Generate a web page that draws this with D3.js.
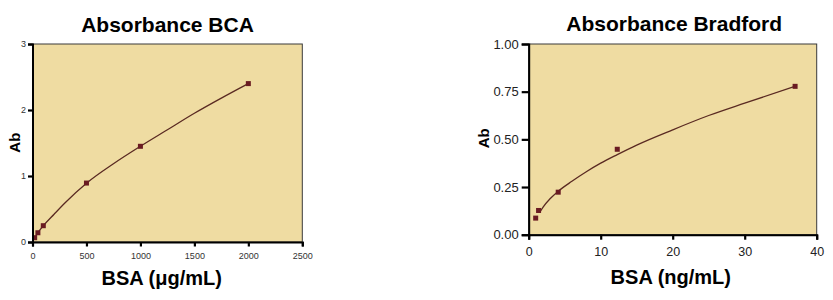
<!DOCTYPE html>
<html>
<head>
<meta charset="utf-8">
<script src="https://cdn.jsdelivr.net/npm/d3@7"></script>
<style>
  html, body { margin: 0; padding: 0; background: #fff; }
  svg { display: block; }
</style>
</head>
<body>
<svg id="chart" width="833" height="300"></svg>
<script>
// ---- BCA chart data ----
const bcaConc = [20, 50, 100, 500, 1000, 2000];
const bcaAbs = [0.065, 0.14, 0.247, 0.893, 1.45, 2.40];
const bcaFitConc = [20, 50, 100, 200, 300, 500, 750, 1000, 1250, 1500, 1750, 2000];
const bcaFitAbs = [0.06, 0.14, 0.245, 0.42, 0.59, 0.89, 1.185, 1.45, 1.70, 1.95, 2.18, 2.40];
const bcaXTicks = [0, 500, 1000, 1500, 2000, 2500];
const bcaYTicks = [0, 1, 2, 3];

// ---- Bradford chart data ----
const bradConc = [0.97, 1.37, 4.1, 12.3, 37.0];
const bradAbs = [0.087, 0.127, 0.223, 0.448, 0.778];
const bradFitConc = [1.5, 2, 3, 4.1, 6, 8, 10, 12.3, 15, 20, 25, 30, 37];
const bradFitAbs = [0.115, 0.145, 0.19, 0.228, 0.28, 0.33, 0.375, 0.42, 0.47, 0.55, 0.625, 0.69, 0.778];
const bradXTicks = [0, 10, 20, 30, 40];
const bradYTicks = [0, 0.25, 0.5, 0.75, 1.0];

const svg = d3.select("#chart");
const FONT = "Arial, 'Liberation Sans', Helvetica, sans-serif";
const FILL = "#efdca2";
const MARK = "#6a1b22";
const LINE = "#5a2a22";

function panel(cfg) {
  const x = d3.scaleLinear().domain(cfg.xDomain).range(cfg.xRange);
  const y = d3.scaleLinear().domain(cfg.yDomain).range(cfg.yRange);
  const g = svg.append("g");

  g.append("rect")
    .attr("x", cfg.xRange[0]).attr("y", cfg.yRange[1])
    .attr("width", cfg.xRange[1] - cfg.xRange[0])
    .attr("height", cfg.yRange[0] - cfg.yRange[1])
    .attr("fill", FILL).attr("stroke", "#3a3a3a").attr("stroke-width", 1);

  // fitted curve
  const fit = cfg.fitX.map((v, i) => [v, cfg.fitY[i]]);
  g.append("path")
    .datum(fit)
    .attr("d", d3.line().x(d => x(d[0])).y(d => y(d[1])).curve(d3.curveMonotoneX))
    .attr("fill", "none").attr("stroke", LINE).attr("stroke-width", 1.3);

  // markers
  const pts = cfg.px.map((v, i) => [v, cfg.py[i]]);
  const ms = 5;
  g.selectAll("rect.pt").data(pts).enter().append("rect")
    .attr("class", "pt")
    .attr("x", d => x(d[0]) - ms / 2).attr("y", d => y(d[1]) - ms / 2)
    .attr("width", ms).attr("height", ms)
    .attr("fill", MARK);

  // axes
  const xAxis = d3.axisBottom(x).tickValues(cfg.xTicks).tickSizeOuter(0)
    .tickSize(cfg.xTickSize).tickPadding(cfg.xPad).tickFormat(cfg.xFmt);
  const gx = g.append("g").attr("transform", `translate(0,${cfg.yRange[0]})`).call(xAxis);
  const yAxis = d3.axisLeft(y).tickValues(cfg.yTicks).tickSizeOuter(0)
    .tickSize(cfg.yTickSize).tickPadding(cfg.yPad).tickFormat(cfg.yFmt);
  const gy = g.append("g").attr("transform", `translate(${cfg.xRange[0]},0)`).call(yAxis);

  [gx, gy].forEach(a => {
    a.select(".domain").attr("stroke", "#000").attr("stroke-width", 2);
    a.selectAll(".tick line").attr("stroke", "#000").attr("stroke-width", 2.2);
  });
  gx.selectAll(".tick text").attr("font-family", FONT).attr("font-size", cfg.xFs).attr("fill", cfg.tickColor);
  gy.selectAll(".tick text").attr("font-family", FONT).attr("font-size", cfg.yFs).attr("fill", cfg.tickColor);

  // title
  g.append("text").attr("x", cfg.titlePos[0]).attr("y", cfg.titlePos[1])
    .attr("text-anchor", "middle").attr("font-family", FONT)
    .attr("font-weight", "bold").attr("font-size", 21).attr("fill", "#000")
    .text(cfg.title);
  // x label
  g.append("text").attr("x", cfg.xLabPos[0]).attr("y", cfg.xLabPos[1])
    .attr("text-anchor", "middle").attr("font-family", FONT)
    .attr("font-weight", "bold").attr("font-size", 20).attr("fill", "#000")
    .text(cfg.xLabel);
  // y label
  g.append("text")
    .attr("transform", `translate(${cfg.yLabPos[0]},${cfg.yLabPos[1]}) rotate(-90)`)
    .attr("text-anchor", "middle").attr("font-family", FONT)
    .attr("font-weight", "bold").attr("font-size", 15).attr("fill", "#000")
    .text("Ab");
}

panel({
  xDomain: [0, 2500], xRange: [32.5, 302.3],
  yDomain: [0, 3], yRange: [242, 44],
  px: bcaConc, py: bcaAbs, fitX: bcaFitConc, fitY: bcaFitAbs,
  xTicks: bcaXTicks, yTicks: bcaYTicks,
  xTickSize: 4.5, xPad: 6, yTickSize: 4.5, yPad: 2,
  xFs: 9, yFs: 9, tickColor: "#333",
  xFmt: d3.format("d"), yFmt: d3.format("d"),
  title: "Absorbance BCA", titlePos: [167.5, 31.5],
  xLabel: "BSA (\u03bcg/mL)", xLabPos: [161.7, 285],
  yLabPos: [20, 142.7]
});

panel({
  xDomain: [0, 40], xRange: [528.7, 816.7],
  yDomain: [0, 1], yRange: [234.7, 44],
  px: bradConc, py: bradAbs, fitX: bradFitConc, fitY: bradFitAbs,
  xTicks: bradXTicks, yTicks: bradYTicks,
  xTickSize: 5, xPad: 7.4, yTickSize: 7, yPad: 3,
  xFs: 12.5, yFs: 13, tickColor: "#222",
  xFmt: d3.format("d"), yFmt: d3.format(".2f"),
  title: "Absorbance Bradford", titlePos: [674.2, 31],
  xLabel: "BSA (ng/mL)", xLabPos: [670.8, 284],
  yLabPos: [488.5, 138.3]
});
</script>
</body>
</html>
